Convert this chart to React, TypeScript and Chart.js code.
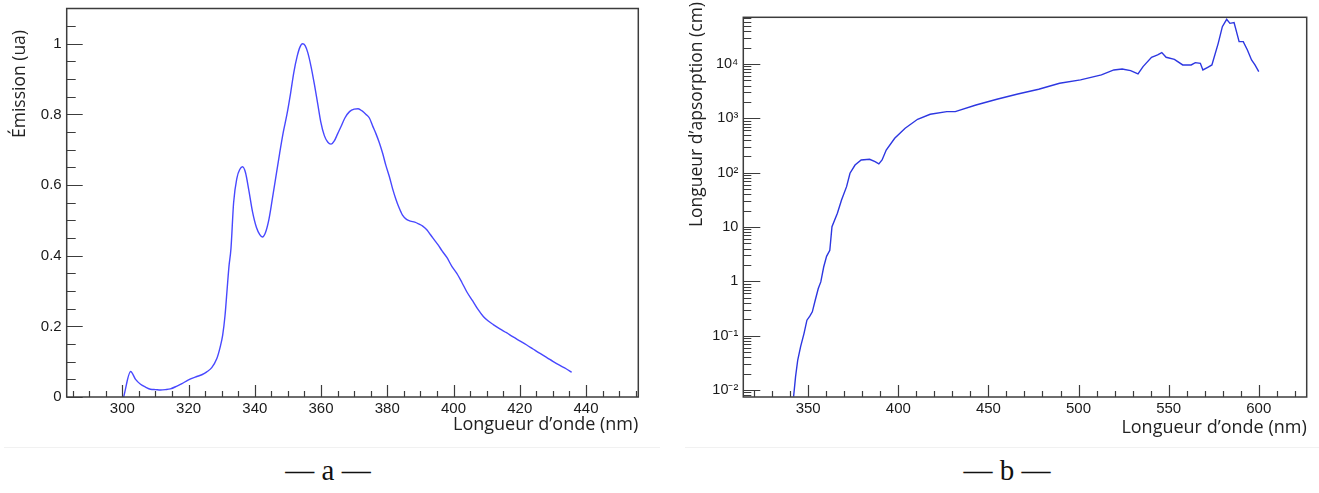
import React, { useEffect, useRef } from "react";
import { Chart, registerables } from "chart.js";

Chart.register(...registerables);

// ---------- Panel a : emission spectrum ----------
const A_WAVELENGTH = [
  300.4, 302.5, 304, 305.5, 307, 308.5, 310, 311.5, 313, 314.5, 316.5, 318, 319.7, 321, 322.5, 324,
  325.5, 327, 328.5, 329.5, 330.3, 331, 331.6, 332.2, 332.8, 333.6, 334.6, 335.5, 336.3, 337.2,
  338.2, 339.3, 340.5, 341.5, 342.3, 343.2, 344.2, 345.2, 346.3, 347.5, 348.6, 349.7, 350.8, 351.8,
  352.8, 353.6, 354.4, 355.2, 356, 357, 358, 359, 359.9, 361, 362, 363, 364, 365, 366, 367.2, 368.6,
  370, 371.2, 372.4, 373.6, 374.6, 375.6, 376.6, 377.6, 378.6, 379.6, 380.6, 381.6, 382.6, 383.6,
  384.6, 385.8, 387, 388.3, 389.5, 390.7, 392, 393, 394.2, 395.4, 396.6, 398, 399.5, 401, 402.5,
  404, 405.8, 407.4, 409, 410.5, 412, 414, 416, 418, 420, 422, 424, 426, 428.3, 430, 432, 434, 435.7,
];
const A_EMISSION = [
  0, 0.072, 0.05, 0.036, 0.028, 0.022, 0.021, 0.02, 0.021, 0.023, 0.031, 0.038, 0.047, 0.053, 0.058,
  0.063, 0.071, 0.083, 0.108, 0.14, 0.175, 0.23, 0.3, 0.37, 0.42, 0.55, 0.62, 0.645, 0.652, 0.635,
  0.585, 0.525, 0.48, 0.46, 0.453, 0.465, 0.5, 0.555, 0.62, 0.69, 0.75, 0.8, 0.86, 0.92, 0.965, 0.99,
  1.0, 0.995, 0.975, 0.935, 0.885, 0.83, 0.78, 0.74, 0.722, 0.716, 0.725, 0.745, 0.765, 0.79, 0.808,
  0.815, 0.816, 0.81, 0.8, 0.79, 0.767, 0.745, 0.72, 0.69, 0.655, 0.625, 0.59, 0.56, 0.535, 0.515,
  0.503, 0.498, 0.495, 0.49, 0.484, 0.473, 0.46, 0.445, 0.43, 0.413, 0.395, 0.37, 0.35, 0.325, 0.298,
  0.272, 0.248, 0.228, 0.215, 0.205, 0.193, 0.182, 0.17, 0.159, 0.148, 0.136, 0.124, 0.111, 0.101,
  0.09, 0.08, 0.07,
];
const A_X_TICKS = [300, 320, 340, 360, 380, 400, 420, 440];
const A_Y_TICKS = [0, 0.2, 0.4, 0.6, 0.8, 1];
const A_Y_TICK_LABELS = ["0", "0.2", "0.4", "0.6", "0.8", "1"];
const A_X_RANGE = [283.2, 455.8];
const A_Y_RANGE = [0, 1.1];
const A_Y_TITLE = "Émission (ua)";

// ---------- Panel b : absorption length ----------
const B_WAVELENGTH = [
  341.9, 343, 344.2, 345.8, 347.7, 349.3, 350.9, 352.3, 353.9, 355.6, 357, 358.6, 360.2, 362, 363.2,
  366.2, 368.5, 371.3, 373.2, 376, 379.4, 384.1, 387.1, 389.2, 391, 393.3, 398, 403.8, 410.7, 417.7,
  426.9, 431.6, 443.1, 454.7, 466.3, 477.9, 489.5, 501.1, 512.7, 519.6, 524.2, 528.9, 533, 535.8,
  540.5, 543.9, 546.2, 548.6, 553.2, 557.8, 562.5, 564.8, 567.6, 569, 571.7, 574, 577.5, 579.8,
  582.2, 584, 586.3, 589.1, 591.4, 593.7, 596, 597.9, 600,
];
const B_ABSORPTION = [
  0.0075, 0.0176, 0.0355, 0.0624, 0.11, 0.192, 0.228, 0.274, 0.447, 0.733, 0.973, 1.83, 2.88, 3.71,
  10.1, 17.8, 31.4, 55.2, 97.3, 138, 171, 176, 159, 145, 171, 261, 429, 655, 959, 1186, 1327, 1327,
  1758, 2239, 2805, 3420, 4406, 5082, 6281, 7762, 8091, 7534, 6546, 8933, 13270, 14660, 16180,
  13270, 12190, 9594, 9594, 10590, 10280, 7762, 8690, 9594, 23990, 48640, 66370, 55980, 57680,
  25760, 25760, 18110, 11860, 9594, 7228,
];
const B_X_TICKS = [350, 400, 450, 500, 550, 600];
const B_Y_TICKS = [0.01, 0.1, 1, 10, 100, 1000, 10000];
const B_Y_TICK_LABELS = ["10⁻²", "10⁻¹", "1", "10", "10²", "10³", "10⁴"];
const B_X_RANGE = [314, 626.6];
const B_Y_RANGE = [0.0074, 72300];
const B_Y_TITLE = "Longueur d’apsorption (cm)";

const X_TITLE = "Longueur d’onde (nm)";

// ROOT-like frame with inner ticks, drawn from the chart's own scales
const rootFrame = {
  id: "rootFrame",
  afterDatasetsDraw(chart: any, _args: any, opts: any) {
    const { ctx, chartArea: ca } = chart;
    const xs = chart.scales.x;
    const ys = chart.scales.y;
    ctx.save();
    ctx.strokeStyle = "#3c3c3c";
    ctx.lineWidth = 1.2;
    ctx.beginPath();
    const xmin = xs.min, xmax = xs.max;
    for (let v = Math.ceil(xmin / opts.xMinor) * opts.xMinor; v <= xmax + 1e-9; v += opts.xMinor) {
      const isMajor = Math.abs(v / opts.xMajor - Math.round(v / opts.xMajor)) < 1e-6;
      const px = Math.round(xs.getPixelForValue(v)) + 0.5;
      const len = isMajor ? opts.xMajorLen : opts.xMinorLen;
      ctx.moveTo(px, ca.bottom);
      ctx.lineTo(px, ca.bottom - len);
    }
    if (opts.log) {
      const e0 = Math.floor(Math.log10(ys.min));
      const e1 = Math.ceil(Math.log10(ys.max));
      for (let e = e0; e <= e1; e++) {
        for (let m = 1; m <= 9; m++) {
          const v = m * Math.pow(10, e);
          if (v < ys.min || v > ys.max) continue;
          const py = Math.round(ys.getPixelForValue(v)) + 0.5;
          const len = m === 1 ? opts.yMajorLen : opts.yMinorLen;
          ctx.moveTo(ca.left, py);
          ctx.lineTo(ca.left + len, py);
        }
      }
    } else {
      for (let v = Math.ceil(ys.min / opts.yMinor) * opts.yMinor; v <= ys.max + 1e-9; v += opts.yMinor) {
        const isMajor = Math.abs(v / opts.yMajor - Math.round(v / opts.yMajor)) < 1e-6;
        const py = Math.round(ys.getPixelForValue(v)) + 0.5;
        const len = isMajor ? opts.yMajorLen : opts.yMinorLen;
        ctx.moveTo(ca.left, py);
        ctx.lineTo(ca.left + len, py);
      }
    }
    ctx.stroke();
    ctx.lineWidth = 1.5;
    ctx.strokeRect(ca.left, ca.top, ca.right - ca.left, ca.bottom - ca.top);
    ctx.restore();
  },
};

// rotated y title, end-aligned at a given height (ROOT style)
const yTitle = {
  id: "yTitle",
  afterDraw(chart: any, _args: any, opts: any) {
    const { ctx } = chart;
    ctx.save();
    ctx.translate(opts.x, opts.y);
    ctx.rotate(-Math.PI / 2);
    ctx.font = `${opts.size}px "Open Sans"`;
    ctx.fillStyle = "#222";
    ctx.textAlign = "right";
    ctx.textBaseline = "middle";
    ctx.fillText(opts.text, 0, 0);
    ctx.restore();
  },
};

function makeConfig(p: any) {
  return {
    type: "line",
    data: {
      datasets: [
        {
          data: p.xs.map((x: number, i: number) => ({ x, y: p.ys[i] })),
          borderColor: p.color,
          borderWidth: 1.4,
          pointRadius: 0,
          fill: false,
          cubicInterpolationMode: p.smooth ? "monotone" : "default",
          tension: 0,
        },
      ],
    },
    options: {
      responsive: false,
      animation: false,
      devicePixelRatio: 1,
      layout: { padding: p.padding },
      plugins: {
        legend: { display: false },
        tooltip: { enabled: false },
        rootFrame: p.frame,
        yTitle: p.yTitle,
      },
      scales: {
        x: {
          type: "linear",
          min: p.xRange[0],
          max: p.xRange[1],
          grid: { display: false, drawTicks: false },
          border: { display: false },
          afterBuildTicks: (s: any) => {
            s.ticks = p.xTicks.map((v: number) => ({ value: v }));
          },
          afterFit: (s: any) => {
            s.height = p.xHeight;
            s.paddingLeft = 0;
            s.paddingRight = 0;
          },
          ticks: {
            autoSkip: false,
            maxRotation: 0,
            padding: 3,
            color: "#1a1a1a",
            font: { family: "Liberation Sans", size: 15 },
            callback: (v: number) => String(v),
          },
          title: {
            display: true,
            text: X_TITLE,
            align: "end",
            color: "#222",
            font: { family: "Open Sans", size: 18 },
            padding: { top: 0, bottom: p.xTitlePad },
          },
        },
        y: {
          type: p.log ? "logarithmic" : "linear",
          min: p.yRange[0],
          max: p.yRange[1],
          grid: { display: false, drawTicks: false },
          border: { display: false },
          afterBuildTicks: (s: any) => {
            s.ticks = p.yTicks.map((v: number) => ({ value: v }));
          },
          afterFit: (s: any) => {
            s.width = p.yWidth;
            s.paddingTop = 0;
            s.paddingBottom = 0;
          },
          ticks: {
            autoSkip: false,
            padding: 5,
            color: "#1a1a1a",
            font: { family: "Liberation Sans", size: p.yFont },
            callback: (_v: number, i: number) => p.yLabels[i],
          },
        },
      },
    },
    plugins: [rootFrame, yTitle],
  };
}

function ChartCanvas(props: { config: any; left: number; width: number; height: number }) {
  const ref = useRef<HTMLCanvasElement>(null);
  useEffect(() => {
    const chart = new Chart(ref.current as HTMLCanvasElement, props.config);
    return () => chart.destroy();
  }, []);
  return (
    <canvas
      ref={ref}
      width={props.width}
      height={props.height}
      style={{ position: "absolute", left: props.left, top: 0, width: props.width, height: props.height, display: "block" }}
    />
  );
}

const configA = makeConfig({
  xs: A_WAVELENGTH,
  ys: A_EMISSION,
  color: "rgb(72,72,255)",
  smooth: true,
  log: false,
  xRange: A_X_RANGE,
  yRange: A_Y_RANGE,
  xTicks: A_X_TICKS,
  yTicks: A_Y_TICKS,
  yLabels: A_Y_TICK_LABELS,
  yFont: 15,
  padding: { left: 0, top: 8.5, right: 21.7, bottom: 0 },
  yWidth: 66.7,
  xHeight: 48,
  xTitlePad: 9,
  frame: { xMinor: 5, xMajor: 20, xMajorLen: 12, xMinorLen: 6, yMinor: 0.05, yMajor: 0.2, yMajorLen: 16, yMinorLen: 9, log: false },
  yTitle: { text: A_Y_TITLE, x: 20, y: 30, size: 17.5 },
});

const configB = makeConfig({
  xs: B_WAVELENGTH,
  ys: B_ABSORPTION,
  color: "rgb(45,55,225)",
  smooth: false,
  log: true,
  xRange: B_X_RANGE,
  yRange: B_Y_RANGE,
  xTicks: B_X_TICKS,
  yTicks: B_Y_TICKS,
  yLabels: B_Y_TICK_LABELS,
  yFont: 14.5,
  padding: { left: 0, top: 17.3, right: 12.3, bottom: 0 },
  yWidth: 83.3,
  xHeight: 48,
  xTitlePad: 6,
  frame: { xMinor: 10, xMajor: 50, xMajorLen: 12, xMinorLen: 6, yMajorLen: 17, yMinorLen: 8, log: true },
  yTitle: { text: B_Y_TITLE, x: 37, y: 2, size: 17.5 },
});

export default function App() {
  return (
    <div style={{ position: "absolute", left: 0, top: 0, width: 1319, height: 493, background: "#fff", overflow: "hidden" }}>
      <ChartCanvas config={configA} left={0} width={660} height={445} />
      <ChartCanvas config={configB} left={660} width={659} height={445} />
      <div style={{ position: "absolute", left: 4, top: 447, width: 656, height: 1, background: "#f1f1f1" }} />
      <div style={{ position: "absolute", left: 685, top: 447, width: 634, height: 1, background: "#f1f1f1" }} />
      <div
        style={{
          position: "absolute",
          left: 228,
          width: 200,
          top: 456,
          textAlign: "center",
          fontFamily: "'Liberation Serif', serif",
          fontSize: 29,
          lineHeight: "28px",
          color: "#111",
        }}
      >
        — a —
      </div>
      <div
        style={{
          position: "absolute",
          left: 907,
          width: 200,
          top: 456,
          textAlign: "center",
          fontFamily: "'Liberation Serif', serif",
          fontSize: 29,
          lineHeight: "28px",
          color: "#111",
        }}
      >
        — b —
      </div>
    </div>
  );
}
